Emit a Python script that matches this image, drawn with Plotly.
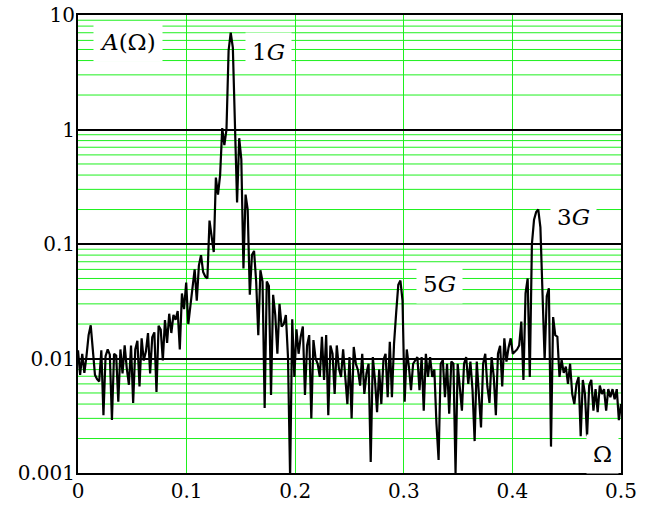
import numpy as np
import plotly.graph_objects as go

# Amplitude spectrum values, sampled at Omega = i/512, i = 0..256
amp_0_31 = [0.0118, 0.0072, 0.0110, 0.0075, 0.0105, 0.0160, 0.0195, 0.0120,
            0.0072, 0.0066, 0.0063, 0.0118, 0.0032, 0.0105, 0.0120, 0.0108,
            0.0029, 0.0110, 0.0106, 0.0042, 0.0120, 0.0074, 0.0130, 0.0082,
            0.0059, 0.0130, 0.0041, 0.0120, 0.0143, 0.0057, 0.0150, 0.0096]
amp_32_63 = [0.0115, 0.0167, 0.0074, 0.0153, 0.0169, 0.0051, 0.0193, 0.0179,
             0.0096, 0.0217, 0.0137, 0.0246, 0.0167, 0.0240, 0.0218, 0.0260,
             0.0120, 0.0370, 0.0270, 0.0460, 0.0200, 0.0290, 0.0420, 0.0600,
             0.0320, 0.0650, 0.0800, 0.0570, 0.0520, 0.0500, 0.1600, 0.1200]
amp_64_95 = [0.0850, 0.380, 0.270, 0.400, 1.03, 0.73, 1.00, 4.90,
             7.00, 5.20, 0.95, 0.23, 0.84, 0.55, 0.061, 0.27,
             0.20, 0.036, 0.080, 0.087, 0.047, 0.016, 0.059, 0.047,
             0.0037, 0.047, 0.043, 0.0048, 0.036, 0.024, 0.011, 0.030]
amp_96_127 = [0.019, 0.020, 0.024, 0.0103, 0.0009, 0.022, 0.0069, 0.018,
              0.011, 0.0155, 0.019, 0.0048, 0.013, 0.016, 0.0030, 0.0145,
              0.0100, 0.0090, 0.0069, 0.0155, 0.0065, 0.016, 0.0032, 0.013,
              0.011, 0.0049, 0.013, 0.0082, 0.0069, 0.012, 0.0069, 0.0040]
amp_128_159 = [0.0103, 0.0030, 0.0126, 0.0090, 0.0079, 0.0058, 0.0110, 0.0049,
               0.0074, 0.0090, 0.00125, 0.0103, 0.0065, 0.0034, 0.0080, 0.0040,
               0.0097, 0.0110, 0.0046, 0.0140, 0.0046, 0.0135, 0.0250, 0.0440,
               0.0480, 0.0320, 0.0042, 0.0120, 0.0085, 0.0053, 0.0090, 0.0097]
amp_160_191 = [0.0103, 0.0053, 0.0103, 0.0035, 0.0110, 0.0069, 0.0103, 0.0069,
               0.0080, 0.0027, 0.0013, 0.0090, 0.0097, 0.0046, 0.0090, 0.0033,
               0.0094, 0.0090, 0.0010, 0.0090, 0.0057, 0.0035, 0.0090, 0.0103,
               0.0060, 0.0094, 0.0053, 0.0019, 0.0094, 0.0053, 0.0025, 0.0090]
amp_192_223 = [0.0110, 0.0057, 0.0041, 0.0103, 0.0070, 0.0032, 0.0110, 0.0129,
               0.0057, 0.0150, 0.0094, 0.0125, 0.0150, 0.0110, 0.0115, 0.0120,
               0.0130, 0.0210, 0.0065, 0.0370, 0.0500, 0.0069, 0.100, 0.163,
               0.190, 0.200, 0.140, 0.040, 0.0097, 0.035, 0.041, 0.0017]
amp_224_256 = [0.023, 0.016, 0.0155, 0.0069, 0.0097, 0.0075, 0.0085, 0.0060,
               0.0090, 0.0049, 0.0040, 0.0060, 0.0069, 0.0021, 0.0065, 0.0049,
               0.0021, 0.0058, 0.0065, 0.0035, 0.0054, 0.0034, 0.0058, 0.0049,
               0.0054, 0.0035, 0.0054, 0.0046, 0.0054, 0.0044, 0.0054, 0.0029,
               0.0040]

amplitude = (amp_0_31 + amp_32_63 + amp_64_95 + amp_96_127 + amp_128_159
             + amp_160_191 + amp_192_223 + amp_224_256)
omega = np.arange(len(amplitude)) / 512.0

x_ticks = [0, 0.1, 0.2, 0.3, 0.4, 0.5]
x_ticktext = ["0", "0.1", "0.2", "0.3", "0.4", "0.5"]
y_ticks = [0.001, 0.01, 0.1, 1, 10]
y_ticktext = ["0.001", "0.01", "0.1", "1", "10"]
# minor (green) horizontal grid: 2..9 times each decade
minor_mult = [2, 3, 4, 5, 6, 7, 8, 9]
decades = [0.001, 0.01, 0.1, 1]

# labels: (text, Omega, amplitude)
labels = [("<i>A</i>(Ω)", 0.046, 5.8),
          ("1<i>G</i>", 0.175, 4.75),
          ("5<i>G</i>", 0.333, 0.0446),
          ("3<i>G</i>", 0.456, 0.171),
          ("Ω", 0.4825, 0.00146)]

GREEN = "#1ef01e"
FONT = "DejaVu Serif"

fig = go.Figure()

for d in decades:
    for m in minor_mult:
        fig.add_shape(type="line", xref="paper", x0=0, x1=1, yref="y",
                      y0=m * d, y1=m * d, layer="below",
                      line=dict(color=GREEN, width=1))

fig.add_trace(go.Scatter(x=omega, y=amplitude, mode="lines",
                         line=dict(color="black", width=2.2),
                         showlegend=False, hoverinfo="skip"))

for text, xv, yv in labels:
    fig.add_annotation(x=xv, y=np.log10(yv), xref="x", yref="y", text=text,
                       showarrow=False, bgcolor="white", borderpad=6,
                       font=dict(family=FONT, size=23, color="black"))

fig.update_xaxes(range=[0, 0.5], tickmode="array", tickvals=x_ticks,
                 ticktext=x_ticktext, showgrid=True, gridcolor=GREEN,
                 gridwidth=1, showline=True, mirror=True, linecolor="black",
                 linewidth=2, ticks="", ticklabelstandoff=-1, zeroline=False,
                 automargin=False,
                 tickfont=dict(family=FONT, size=20, color="black"))
fig.update_yaxes(type="log", range=[-3, 1], tickmode="array", tickvals=y_ticks,
                 ticktext=y_ticktext, showgrid=True, gridcolor="black",
                 gridwidth=2, showline=True, mirror=True, linecolor="black",
                 linewidth=2, ticks="", ticklabelstandoff=-3, zeroline=False,
                 automargin=False,
                 tickfont=dict(family=FONT, size=20, color="black"))

fig.update_layout(width=647, height=506, plot_bgcolor="white",
                  paper_bgcolor="white",
                  margin=dict(l=78, r=26, t=15, b=33))

fig.write_html("out.html")
